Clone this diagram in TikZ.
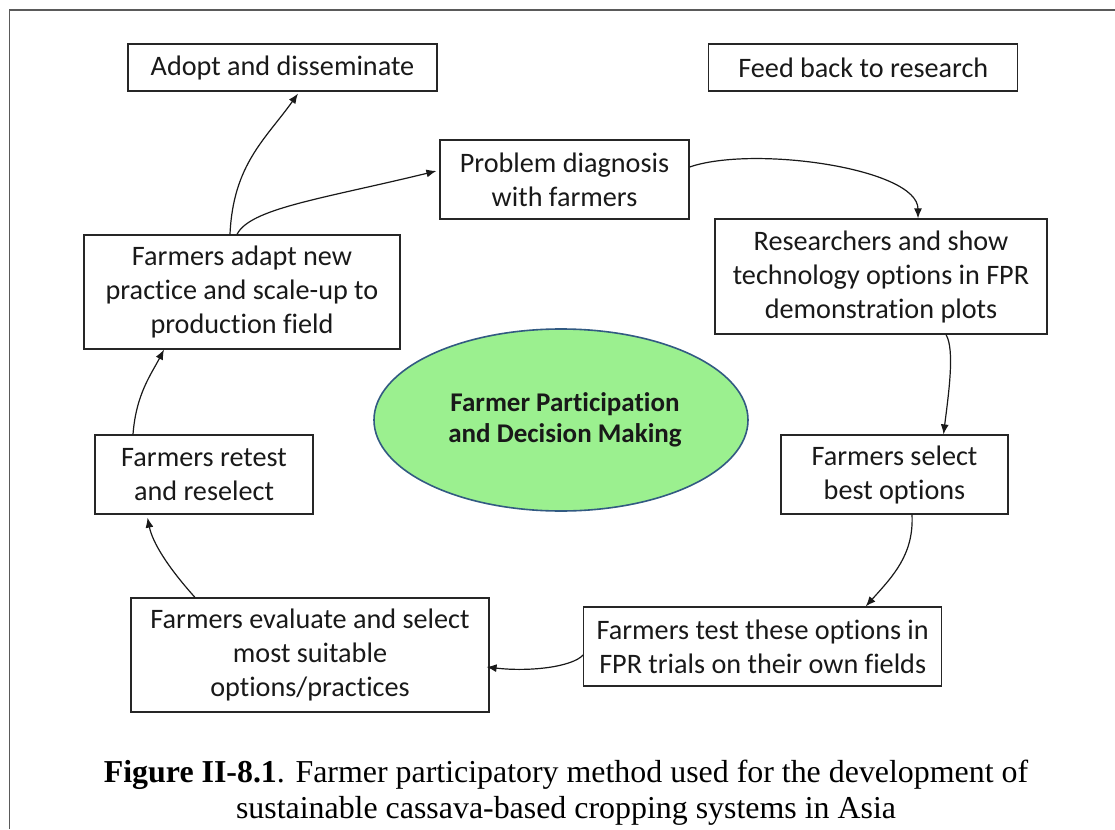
\documentclass[tikz,border=0pt]{standalone}
\usepackage{fontspec}
\setmainfont{Liberation Serif}
\newfontfamily\boxfont[Ligatures=NoCommon]{Carlito}
\usetikzlibrary{arrows.meta,shapes.geometric}
\definecolor{ellfill}{RGB}{155,240,143}
\definecolor{elldraw}{RGB}{50,90,130}
\definecolor{framegray}{RGB}{90,90,90}
\tikzset{
  stepbox/.style={draw=black!85, line width=1.2pt, fill=white, align=center, inner sep=0pt,
    font=\boxfont\fontsize{28.2}{34}\selectfont, text=black!90},
  flow/.style={line width=1.2pt, draw=black!90, -{Latex[length=10pt,width=8pt]}},
}
\begin{document}
\begin{tikzpicture}[x=1pt,y=-1pt]
\useasboundingbox (0,0) rectangle (1115,829);
\fill[white] (0,0) rectangle (1115,829);
% frame
\coordinate (fb) at (9.6,829);
\coordinate (fc) at (9.6,10);
\coordinate (fr) at (1115,10);
\draw[framegray, line width=1.3pt] (fb) -- (fc) -- (fr);

\node[stepbox, minimum width=309pt, minimum height=47pt] (adopt) at (282.5,67.5) {Adopt and disseminate};
\node[stepbox, minimum width=309pt, minimum height=47pt] (feed) at (863.3,67.5) {Feed back to research};
\node[stepbox, minimum width=249pt, minimum height=79pt] (problem) at (564.5,179.5) {Problem diagnosis\\with farmers};
\node[stepbox, minimum width=332pt, minimum height=115pt] (research) at (881,276.5) {Researchers and show\\technology options in FPR\\demonstration plots};
\node[stepbox, minimum width=316pt, minimum height=114pt] (adapt) at (242,292) {Farmers adapt new\\practice and scale-up to\\production field};
\node[stepbox, minimum width=227pt, minimum height=79pt] (select) at (894.5,474.5) {Farmers select\\best options};
\node[stepbox, minimum width=358pt, minimum height=79pt] (test) at (762.7,646.5) {Farmers test these options in\\FPR trials on their own fields};
\node[stepbox, minimum width=358pt, minimum height=114pt] (evaluate) at (310,655) {Farmers evaluate and select\\most suitable\\options/practices};
\node[stepbox, minimum width=218pt, minimum height=79pt] (retest) at (204,474.5) {Farmers retest\\and reselect};

\node[ellipse, draw=elldraw, fill=ellfill, line width=1.6pt, minimum width=374pt, minimum height=182pt, inner sep=0pt,
  align=center, font=\boxfont\bfseries\fontsize{27}{31}\selectfont, text=black!90] (core) at (561,420) {\hspace*{8pt}Farmer Participation\\\hspace*{8pt}and Decision Making};

% connectors
\draw[flow] ([xshift=-12pt]adapt.north) .. controls +(3,-70) and +(-32,45) .. ([xshift=15.5pt,yshift=-2pt]adopt.south);
\draw[flow] ([xshift=-5pt]adapt.north) .. controls +(13,-26) and +(-115,28) .. ([xshift=-3pt,yshift=8.5pt]problem.west);
\draw[flow] ([yshift=12.5pt]problem.east) .. controls +(64,-22) and +(0,-50) .. ([xshift=37pt]research.north);
\draw[flow] ([xshift=65pt]research.south) .. controls +(9,15) and +(5,-40) .. ([xshift=49pt]select.north);
\draw[flow] ([xshift=17.5pt]select.south) .. controls +(2,40) and +(27,-30) .. ([xshift=103pt]test.north);
\draw[flow] ([yshift=-8.5pt]test.west) .. controls +(-11,12) and +(43,5) .. ([xshift=-3pt,yshift=-12pt]evaluate.east);
\draw[flow] ([xshift=-115pt]evaluate.north) .. controls +(-27,-30) and +(5,25) .. ([xshift=-56.5pt,yshift=-3pt]retest.south);
\draw[flow] ([xshift=-71pt]retest.north) .. controls +(3,-40) and +(-13,25) .. ([xshift=-78pt]adapt.south);

% caption
\node[font=\fontsize{31.9}{36}\selectfont, align=center, anchor=base] (cap) at (566,818) {\textbf{Figure II-8.1}. Farmer participatory method used for the development of\\sustainable cassava-based cropping systems in Asia};
\end{tikzpicture}
\end{document}
